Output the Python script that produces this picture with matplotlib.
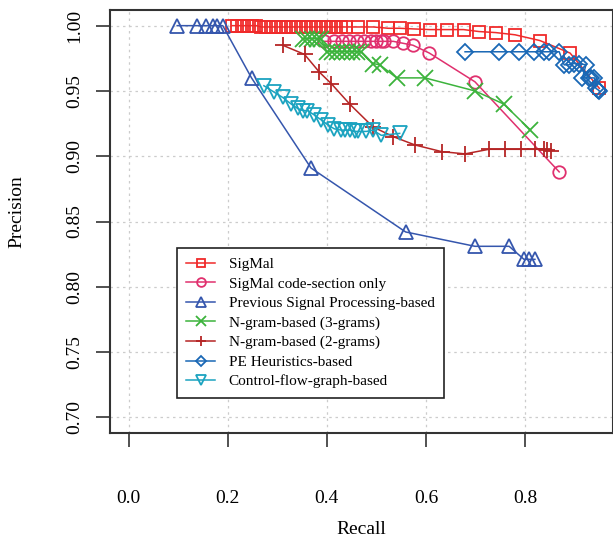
import matplotlib
matplotlib.use("Agg")
import matplotlib.pyplot as plt

plt.rcParams['font.family'] = ['Liberation Serif', 'DejaVu Serif']

# SigMal
sig_x = [0.209, 0.218, 0.228, 0.238, 0.248, 0.258, 0.268, 0.278, 0.288, 0.298,
         0.308, 0.318, 0.328, 0.338, 0.348, 0.358, 0.368, 0.378, 0.388, 0.398,
         0.408, 0.418, 0.428, 0.439, 0.463, 0.494, 0.524, 0.547, 0.575, 0.608,
         0.642, 0.676, 0.707, 0.741, 0.780, 0.830, 0.891, 0.950]
sig_y = [1.000, 1.000, 1.000, 1.000, 1.000, 1.000, 0.999, 0.999, 0.999, 0.999,
         0.999, 0.999, 0.999, 0.999, 0.999, 0.999, 0.999, 0.999, 0.999, 0.999,
         0.999, 0.999, 0.999, 0.999, 0.999, 0.999, 0.998, 0.998, 0.9975, 0.997,
         0.997, 0.997, 0.9955, 0.9947, 0.993, 0.9886, 0.979, 0.952]

# SigMal code-section only
code_x = [0.395, 0.415, 0.43, 0.445, 0.46, 0.476, 0.49, 0.50, 0.51, 0.516,
          0.534, 0.554, 0.574, 0.607, 0.699, 0.869]
code_y = [0.988, 0.988, 0.988, 0.988, 0.988, 0.988, 0.988, 0.988, 0.988, 0.988,
          0.988, 0.9865, 0.985, 0.979, 0.957, 0.888]

# Previous Signal Processing-based
prev_x = [0.098, 0.138, 0.157, 0.17, 0.179, 0.19, 0.248, 0.368, 0.559, 0.699,
          0.768, 0.798, 0.808, 0.82]
prev_y = [1.0, 1.0, 1.0, 1.0, 1.0, 1.0, 0.960, 0.891, 0.842, 0.831,
          0.831, 0.821, 0.821, 0.821]

# N-gram 3-grams
ng3_x = [0.351, 0.36, 0.37, 0.38, 0.388, 0.40, 0.41, 0.42, 0.43, 0.44,
         0.45, 0.46, 0.47, 0.493, 0.507, 0.541, 0.598, 0.699, 0.757, 0.811]
ng3_y = [0.99, 0.99, 0.99, 0.99, 0.99, 0.98, 0.98, 0.98, 0.98, 0.98,
         0.98, 0.98, 0.98, 0.971, 0.970, 0.96, 0.96, 0.95, 0.94, 0.92]

# N-gram 2-grams
ng2_x = [0.311, 0.355, 0.385, 0.409, 0.446, 0.493, 0.534, 0.578, 0.632, 0.679,
         0.727, 0.760, 0.791, 0.821, 0.838, 0.845, 0.852]
ng2_y = [0.985, 0.978, 0.9644, 0.9556, 0.940, 0.9225, 0.915, 0.9086, 0.9035, 0.9018,
         0.9053, 0.9053, 0.9053, 0.9053, 0.9053, 0.905, 0.904]

# PE Heuristics-based
pe_x = [0.679, 0.747, 0.787, 0.818, 0.838, 0.848, 0.869, 0.879, 0.889, 0.899,
        0.909, 0.923, 0.916, 0.929, 0.934, 0.94, 0.943, 0.947, 0.95]
pe_y = [0.98, 0.98, 0.98, 0.98, 0.98, 0.98, 0.98, 0.97, 0.97, 0.971,
        0.971, 0.97, 0.96, 0.96, 0.96, 0.96, 0.952, 0.951, 0.95]

# Control-flow-graph-based
cfg_x = [0.273, 0.294, 0.311, 0.328, 0.341, 0.351, 0.361, 0.375, 0.388, 0.402,
         0.415, 0.429, 0.436, 0.446, 0.456, 0.463, 0.48, 0.493, 0.510, 0.547]
cfg_y = [0.954, 0.949, 0.945, 0.940, 0.9366, 0.935, 0.935, 0.9315, 0.928, 0.924,
         0.921, 0.920, 0.920, 0.920, 0.919, 0.919, 0.919, 0.92, 0.916, 0.9175]

series = [
    (sig_x, sig_y, "SigMal", "#f02a2a", "s"),
    (code_x, code_y, "SigMal code-section only", "#e0306e", "o"),
    (prev_x, prev_y, "Previous Signal Processing-based", "#3556ad", "^"),
    (ng3_x, ng3_y, "N-gram-based (3-grams)", "#3cb33c", "x"),
    (ng2_x, ng2_y, "N-gram-based (2-grams)", "#b52525", "+"),
    (pe_x, pe_y, "PE Heuristics-based", "#1a68b5", "D"),
    (cfg_x, cfg_y, "Control-flow-graph-based", "#1ba3c0", "v"),
]

fig = plt.figure(figsize=(6.13, 5.39), dpi=100)
ax = fig.add_axes([110/613, 1-433/539, 503/613, 423/539])

for x, y, lab, c, m in series:
    ms = 9
    if m == "D":
        ms = 8
    if m in ("^", "v"):
        ms = 10
    if m in ("x", "+"):
        ms = 11
    ax.plot(x, y, color=c, marker=m, markersize=ms, markerfacecolor="none",
            markeredgewidth=1.3, linewidth=1.1, label=lab)

ax.set_xlim(-0.0376, 0.9776)
ax.set_ylim(0.688, 1.012)
ax.set_xticks([0.0, 0.2, 0.4, 0.6, 0.8])
ax.set_xticklabels(["0.0", "0.2", "0.4", "0.6", "0.8"])
ax.set_yticks([0.70, 0.75, 0.80, 0.85, 0.90, 0.95, 1.00])
ax.set_yticklabels(["0.70", "0.75", "0.80", "0.85", "0.90", "0.95", "1.00"],
                   rotation=90, va="center")
ax.grid(True, color="#cccccc", linestyle=(0, (2, 3)), linewidth=0.9)
ax.set_axisbelow(True)
ax.tick_params(axis="x", direction="out", length=10, width=1.2, pad=31,
               labelsize=14, color="#333333")
ax.tick_params(axis="y", direction="out", length=10, width=1.2, pad=9,
               labelsize=14, color="#333333")
for s in ax.spines.values():
    s.set_linewidth(1.5)
    s.set_color("#333333")

fig.text(0.59, 0.0167, "Recall", ha="center", va="center", fontsize=14)
fig.text(0.028, 0.607, "Precision", ha="center", va="center", rotation=90, fontsize=14)

leg = ax.legend(loc="upper left", bbox_to_anchor=(0.133, 0.437), fontsize=11,
                markerscale=0.7, handlelength=1.9, handletextpad=0.9,
                labelspacing=0.38, borderpad=0.6, borderaxespad=0,
                fancybox=False, framealpha=1)
leg.get_frame().set_edgecolor("#222222")
leg.get_frame().set_linewidth(1.2)

fig.savefig("out.png", dpi=100)
